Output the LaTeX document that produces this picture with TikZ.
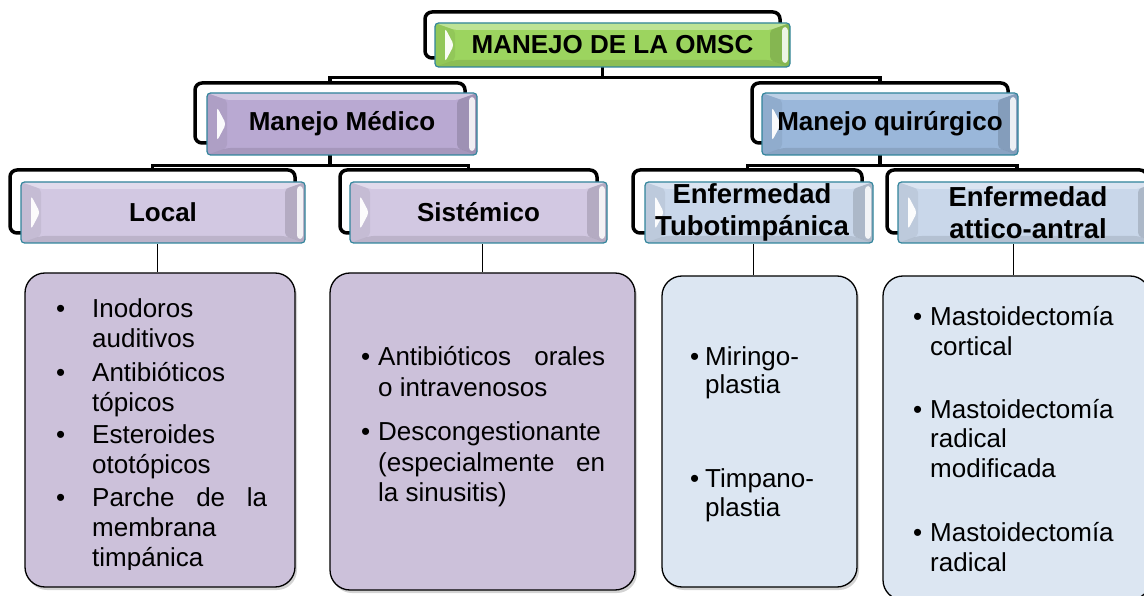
\documentclass[tikz,border=0pt]{standalone}
\usepackage{fontspec}
\setmainfont{Liberation Sans}
\usetikzlibrary{calc,shadows}
\definecolor{tealB}{HTML}{31849B}
\definecolor{greenF}{HTML}{9CD45F}
\definecolor{purpD}{HTML}{B9A9D2}
\definecolor{purpL}{HTML}{D2C8E2}
\definecolor{blueD}{HTML}{9AB7DA}
\definecolor{blueL}{HTML}{C9D7EA}
\definecolor{listP}{HTML}{CCC1DA}
\definecolor{listB}{HTML}{DCE6F2}
\tikzset{
  frame/.style={draw=black, line width=3.5pt, rounded corners=7pt, inner sep=0pt},
  conn/.style={draw=black, line width=3.5pt},
  leaf/.style={draw=black, line width=1pt},
  bev/.style={draw=tealB, line width=1.2pt, rounded corners=3.5pt, fill=#1, inner sep=0pt, align=center,
    path picture={
      \coordinate (NW) at (path picture bounding box.north west);
      \coordinate (NE) at (path picture bounding box.north east);
      \coordinate (SW) at (path picture bounding box.south west);
      \coordinate (SE) at (path picture bounding box.south east);
      \coordinate (WW) at (path picture bounding box.west);
      \fill[white,opacity=.35] (NW) -- (NE) -- ($(NE)+(-20pt,-7pt)$) -- ($(NW)+(20pt,-7pt)$) -- cycle;
      \fill[black,opacity=.10] (SW) -- (SE) -- ($(SE)+(-20pt,7pt)$) -- ($(SW)+(20pt,7pt)$) -- cycle;
      \fill[black,opacity=.06] (NW) -- ($(NW)+(20pt,-7pt)$) -- ($(SW)+(20pt,7pt)$) -- (SW) -- cycle;
      \fill[white,opacity=.95] ($(WW)+(10pt,17pt)$) -- ($(WW)+(19pt,0pt)$) -- ($(WW)+(10pt,-17pt)$) -- cycle;
      \fill[black,opacity=.14] (NE) -- ($(NE)+(-20pt,-7pt)$) -- ($(SE)+(-20pt,7pt)$) -- (SE) -- cycle;
      \fill[white,opacity=.85] ($(NE)+(-8pt,-4pt)$) rectangle ($(SE)+(-2pt,4pt)$);
    }},
  listbox/.style={draw=black, line width=1.3pt, rounded corners=20pt, fill=#1,
    drop shadow={shadow xshift=2pt, shadow yshift=-3pt, opacity=0.35, fill=gray}},
  listtxt/.style={anchor=base west, inner sep=0pt},
  lbl/.style={font=\fontsize{26}{30}\selectfont\bfseries},
  lblb/.style={font=\fontsize{27.5}{32}\selectfont\bfseries},
}
\begin{document}
\begin{tikzpicture}[x=1pt,y=-1pt]
\useasboundingbox (0,0) rectangle (1144,596);
\clip (0,0) rectangle (1144,596);

% frames (behind boxes)
\node[frame, minimum width=355pt, minimum height=46pt] (f0) at (602.5,35) {};
\node[frame, minimum width=270pt, minimum height=60pt] (f1) at (330,113) {};
\node[frame, minimum width=256pt, minimum height=60pt] (f2) at (880,113) {};
\node[frame, minimum width=285pt, minimum height=63pt] (f3) at (152.5,201.5) {};
\node[frame, minimum width=257pt, minimum height=63pt] (f4) at (468.5,201.5) {};
\node[frame, minimum width=229pt, minimum height=63pt] (f5) at (747.5,201.5) {};
\node[frame, minimum width=260pt, minimum height=63pt] (f6) at (1017,201.5) {};

% thick connectors
\draw[conn] (f0.south) -- ++(0,18) coordinate (j0) -| (f1.north);
\draw[conn] (j0) -| (f2.north);
\draw[conn] (f1.south) -- ++(0,21) coordinate (j1) -| (f3.north);
\draw[conn] (j1) -| (f4.north);
\draw[conn] (f2.south) -- ++(0,21) coordinate (j2) -| (f5.north);
\draw[conn] (j2) -| (f6.north);

% bevelled boxes
\node[bev=greenF, lbl, minimum width=355pt, minimum height=44pt] (b0) at (612.5,45) {MANEJO DE LA OMSC};
\node[bev=purpD, lbl, minimum width=270pt, minimum height=62pt] (b1) at (342,124) {Manejo Médico};
\node[bev=blueD, lbl, minimum width=256pt, minimum height=62pt] (b2) at (890,124) {Manejo quirúrgico};
\node[bev=purpL, lbl, minimum width=284pt, minimum height=61pt] (b3) at (163,212.5) {Local};
\node[bev=purpL, lbl, minimum width=257pt, minimum height=61pt] (b4) at (478.5,212.5) {Sistémico};
\node[bev=blueL, lblb, minimum width=228pt, minimum height=61pt] (b5) at (759,212.5) {Enfermedad\hspace*{14pt}\\Tubotimpánica\hspace*{14pt}};
\node[bev=blueL, lblb, minimum width=260pt, minimum height=61pt] (b6) at (1028,212.5) {Enfermedad\\attico-antral};

% list boxes
\node[listbox=listP, minimum width=270pt, minimum height=314pt] (l3) at (160,430) {};
\node[listbox=listP, minimum width=305pt, minimum height=317pt] (l4) at (482.5,431.5) {};
\node[listbox=listB, minimum width=195pt, minimum height=311pt] (l5) at (759.5,431.5) {};
\node[listbox=listB, minimum width=267pt, minimum height=324pt] (l6) at (1016.5,438) {};

\draw[leaf] ([xshift=-3pt]l3.north) -- ([xshift=-3pt]l3.north |- b3.south);
\draw[leaf] (l4.north) -- (l4.north |- b4.south);
\draw[leaf] ([xshift=-6pt]l5.north) -- ([xshift=-6pt]l5.north |- b5.south);
\draw[leaf] ([xshift=-3pt]l6.north) -- ([xshift=-3pt]l6.north |- b6.south);

% list texts
\begin{scope}
\clip (25,273) rectangle (295,569);
\node[listtxt] (t3) at (56,318) {\parbox[t]{240pt}{\fontsize{26}{30}\selectfont
\makebox[36pt][l]{•}Inodoros\\
\hspace*{36pt}auditivos\\[3pt]
\makebox[36pt][l]{•}Antibióticos\\
\hspace*{36pt}tópicos\\[3pt]
\makebox[36pt][l]{•}Esteroides\\
\hspace*{36pt}ototópicos\\[3pt]
\makebox[36pt][l]{•}\makebox[175pt][s]{Parche de la}\\
\hspace*{36pt}membrana\\
\hspace*{36pt}timpánica}};
\end{scope}

\node[listtxt] (t4) at (361,365) {\parbox[t]{260pt}{\fontsize{26}{31}\selectfont
\makebox[17pt][l]{•}\makebox[227pt][s]{Antibióticos orales}\\
\hspace*{17pt}o intravenosos\\[13pt]
\makebox[17pt][l]{•}Descongestionante\\
\hspace*{17pt}\makebox[227pt][s]{(especialmente en}\\
\hspace*{17pt}la sinusitis)}};

\node[listtxt] (t5) at (690,365) {\parbox[t]{170pt}{\fontsize{26}{28.5}\selectfont
\makebox[15pt][l]{•}Miringo-\\
\hspace*{15pt}plastia\\[66pt]
\makebox[15pt][l]{•}Timpano-\\
\hspace*{15pt}plastia}};

\node[listtxt] (t6) at (913,325) {\parbox[t]{230pt}{\fontsize{26}{30}\selectfont
\makebox[17pt][l]{•}Mastoidectomía\\
\hspace*{17pt}cortical\\[33pt]
\makebox[17pt][l]{•}Mastoidectomía\\
\hspace*{17pt}radical\\
\hspace*{17pt}modificada\\[34pt]
\makebox[17pt][l]{•}Mastoidectomía\\
\hspace*{17pt}radical}};
\end{tikzpicture}
\end{document}
